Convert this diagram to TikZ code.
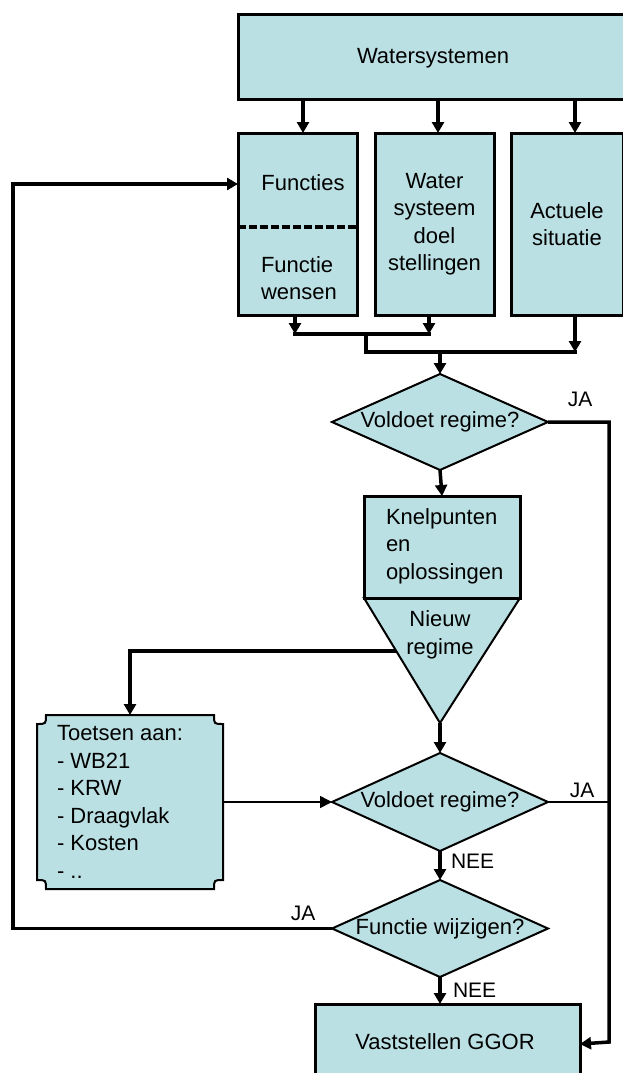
\documentclass[tikz,border=0pt]{standalone}
\usepackage{fontspec}
\setmainfont{Liberation Sans}
\usetikzlibrary{arrows.meta,shapes.geometric,calc}
\definecolor{boxfill}{RGB}{187,224,227}
\begin{document}
\begin{tikzpicture}[x=1pt,y=-1pt,
  every node/.style={font=\fontsize{22}{27.5}\selectfont, inner sep=0pt, outer sep=0pt},
  box/.style={draw, line width=3pt, fill=boxfill, rectangle, anchor=north west},
  dia/.style={diamond, draw, line width=2pt, fill=boxfill, aspect=2.25, minimum width=216pt},
  lbl/.style={font=\fontsize{21}{24}\selectfont},
  thickline/.style={line width=3.5pt, line cap=rect},
  arr/.style={line width=3.5pt, -{Triangle[length=11pt,width=12pt]}},
  thinarr/.style={line width=1.6pt, -{Triangle[length=12pt,width=12pt]}},
  thinline/.style={line width=1.6pt}
]
\useasboundingbox (0,0) rectangle (622,1073);

% top row
\node[box, minimum width=390pt, minimum height=84pt] (ws) at (238,15) {};
\node at (433,58) {Watersystemen};
\node[box, minimum width=119pt, minimum height=182pt] (fn) at (238,133) {};
\node[box, minimum width=119pt, minimum height=182pt, align=center] (wd) at (375,133) {Water\\systeem\\doel\\stellingen};
\node[box, minimum width=112pt, minimum height=182pt, align=center] (ac) at (511,133) {Actuele\\situatie};
\draw[line width=4.5pt, dash pattern=on 8pt off 3pt] (fn.west |- 0,227) -- (fn.east |- 0,227);
\node (fnt) at (303,183) {Functies};
\node[align=left, anchor=west] (fnw) at (261,278) {Functie\\wensen};

\draw[arr] (ws.south -| 303,0) -- (fn.north -| 303,0);
\draw[arr] (ws.south -| 438,0) -- (wd.north -| 438,0);
\draw[arr] (ws.south -| 575,0) -- (ac.north -| 575,0);

% merge bracket
\draw[arr] (fn.south -| 295,0) -- (295,334);
\draw[arr] (wd.south -| 429,0) -- (429,334);
\draw[thickline] (295,334) -- (429,334);
\draw[thickline] (366,334) -- (366,352) -- (575,352);
\draw[arr] (ac.south -| 575,0) -- (575,352);

% decision 1
\node[dia, minimum height=96pt] (d1) at (440,422) {Voldoet regime?};
\draw[arr] (d1.north |- 0,352) -- (d1.north);
\node[lbl] at (580,399) {JA};

% knelpunten
\node[box, minimum width=156pt, minimum height=102pt] (kn) at (364,496) {};
\node[align=left, anchor=west] (knt) at (386,546) {Knelpunten\\en\\oplossingen};
\draw[arr] (d1.south) -- (kn.north);
\coordinate (apex) at (440,723);
\filldraw[fill=boxfill, line width=2pt, line join=miter] (kn.south west) -- (kn.south east) -- (apex) -- cycle;
\draw[line width=3pt] (kn.south west) -- (kn.south east);
\node[align=center] (nr) at (440,635) {Nieuw\\regime};

% toetsen
\node[minimum width=186pt, minimum height=174pt, anchor=north west] (tt) at (37,715) {};
\filldraw[fill=boxfill, line width=2pt]
  ($(tt.north west)+(9,0)$) -- ($(tt.north east)+(-9,0)$)
  .. controls ($(tt.north east)+(-9,9)$) .. ($(tt.north east)+(0,9)$)
  -- ($(tt.south east)+(0,-9)$)
  .. controls ($(tt.south east)+(-9,-9)$) .. ($(tt.south east)+(-9,0)$)
  -- ($(tt.south west)+(9,0)$)
  .. controls ($(tt.south west)+(9,-9)$) .. ($(tt.south west)+(0,-9)$)
  -- ($(tt.north west)+(0,9)$)
  .. controls ($(tt.north west)+(9,9)$) .. cycle;
\node[align=left, anchor=west] (ttt) at (57,802) {Toetsen aan:\\- WB21\\- KRW\\- Draagvlak\\- Kosten\\- ..};
\coordinate (tl) at (396,651);
\draw[arr] (tl) -- (tl -| tt.north) -- (tt.north);

% decision 2
\node[dia, minimum height=98pt] (d2) at (440,802) {Voldoet regime?};
\draw[arr] (apex) -- (d2.north);
\draw[thinarr] (tt.east) -- (d2.west);
\draw[thinline] (d2.east) -- (d2.east -| 609,0);
\node[lbl] at (582,790) {JA};
\node[lbl, anchor=west] at (451,861) {NEE};

% decision 3
\node[dia, minimum height=97pt] (d3) at (440,928.5) {Functie wijzigen?};
\draw[arr] (d2.south) -- (d3.north);
\node[lbl] at (303,913) {JA};
\draw[arr, line join=miter] (d3.west) -- (13,928.5) -- (13,184) -- (fn.west |- 0,184);
\node[lbl, anchor=west] at (453,990) {NEE};

% final
\node[box, minimum width=265pt, minimum height=80pt] (vs) at (315,1004) {};
\node at (445,1042) {Vaststellen GGOR};
\draw[arr] (d3.south) -- (vs.north -| d3.south);
\draw[arr, line join=miter] (d1.east) -- (d1.east -| 609,0) -- (609,1042) -- (vs.east);
\end{tikzpicture}
\end{document}
